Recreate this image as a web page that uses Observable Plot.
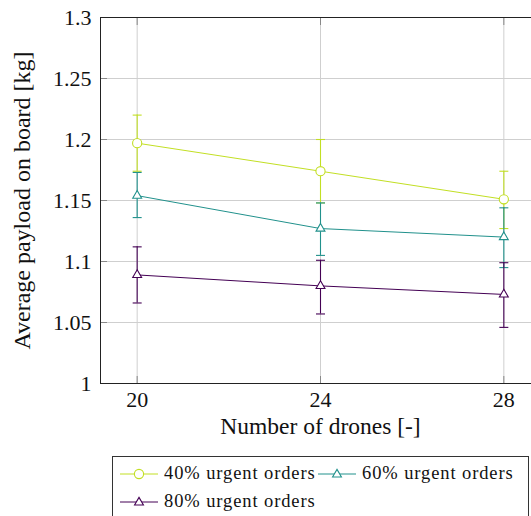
<!DOCTYPE html>
<html>
<head>
<meta charset="utf-8">
<script src="https://cdn.jsdelivr.net/npm/d3@7"></script>
<script src="https://cdn.jsdelivr.net/npm/@observablehq/plot@0.6"></script>
<style>
  html, body { margin: 0; padding: 0; background: #fff; overflow: hidden; }
  #wrap { position: relative; width: 531px; height: 516px; overflow: hidden; }
  #chart svg { max-width: none !important; }
  #chart svg, #chart svg text, #legend { font-family: "Liberation Serif", "Times New Roman", "DejaVu Serif", serif !important; }
  #legend {
    position: absolute; left: 112px; top: 456px; width: 417px; height: 64px;
    border: 1px solid #333; box-sizing: border-box;
    font-size: 18.5px; letter-spacing: 0.9px; color: #111;
  }
  .item { position: absolute; display: flex; align-items: center; white-space: nowrap; }
  .item svg { margin-right: 6px; }
</style>
</head>
<body>
<div id="wrap"><div id="chart"></div><div id="legend"></div></div>
<script>
const drones = [20, 24, 28];
const seriesNames = ["40% urgent orders", "60% urgent orders", "80% urgent orders"];
const seriesColors = ["#c2df23", "#21918c", "#440154"];
const seriesSymbols = ["circle", "triangle", "triangle"];
const mean40 = [1.197, 1.174, 1.151];
const low40  = [1.174, 1.148, 1.127];
const high40 = [1.220, 1.200, 1.174];
const mean60 = [1.154, 1.127, 1.120];
const low60  = [1.136, 1.105, 1.095];
const high60 = [1.173, 1.148, 1.144];
const mean80 = [1.089, 1.080, 1.073];
const low80  = [1.066, 1.057, 1.046];
const high80 = [1.112, 1.101, 1.099];
const yTicks = [1, 1.05, 1.1, 1.15, 1.2, 1.25, 1.3];
const xTicks = [20, 24, 28];
const xLabel = "Number of drones [-]";
const yLabel = "Average payload on board [kg]";

const means = [mean40, mean60, mean80];
const lows = [low40, low60, low80];
const highs = [high40, high60, high80];
const data = [];
seriesNames.forEach((s, i) => drones.forEach((d, j) => data.push({
  series: s, drones: d, mean: means[i][j], low: lows[i][j], high: highs[i][j]
})));

const capSymbol = { draw(ctx, size) { const r = Math.sqrt(size / Math.PI); ctx.moveTo(-r, 0); ctx.lineTo(r, 0); } };

const font = "'Liberation Serif', 'Times New Roman', serif";
const marks = [
  Plot.gridY(yTicks, { stroke: "#cfcfcf", strokeOpacity: 1 }),
  Plot.gridX(xTicks, { stroke: "#cfcfcf", strokeOpacity: 1 }),
  Plot.axisY(yTicks, { anchor: "left", tickSize: -7, stroke: "#888", text: null, label: null }),
  Plot.axisY(yTicks, { anchor: "right", tickSize: -7, stroke: "#888", text: null, label: null }),
  Plot.axisX(xTicks, { anchor: "bottom", tickSize: -7, stroke: "#888", text: null, label: null }),
  Plot.axisX(xTicks, { anchor: "top", tickSize: -7, stroke: "#888", text: null, label: null }),
  Plot.axisY(yTicks, { anchor: "left", tickSize: 0, tickPadding: 9, tickFormat: d => String(+d.toFixed(2)), label: null, fontSize: 22, fill: "#111", fontFamily: font }),
  Plot.axisX(xTicks, { anchor: "bottom", tickSize: 0, tickPadding: 8, tickFormat: d => String(d), label: null, fontSize: 22, fill: "#111", fontFamily: font }),
  Plot.text([xLabel], { text: d => d, frameAnchor: "bottom", dy: 50, fontSize: 23.5, fill: "#111", fontFamily: font }),
  Plot.text([yLabel], { text: d => d, frameAnchor: "left", textAnchor: "middle", dx: -78, rotate: -90, fontSize: 24, fill: "#111", fontFamily: font }),
];
seriesNames.forEach((s, i) => {
  const rows = data.filter(d => d.series === s);
  const c = seriesColors[i];
  marks.push(
    Plot.ruleX(rows, { x: "drones", y1: "low", y2: "high", stroke: c, strokeWidth: 1.1 }),
    Plot.dot(rows, { x: "drones", y: "low", symbol: capSymbol, r: 4.5, stroke: c, fill: "none", strokeWidth: 1.1 }),
    Plot.dot(rows, { x: "drones", y: "high", symbol: capSymbol, r: 4.5, stroke: c, fill: "none", strokeWidth: 1.1 }),
    Plot.line(rows, { x: "drones", y: "mean", stroke: c, strokeWidth: 1 }),
    Plot.dot(rows, { x: "drones", y: "mean", symbol: seriesSymbols[i], r: seriesSymbols[i] === "circle" ? 4.6 : 3.3, stroke: c, fill: "white", strokeWidth: 1.1 })
  );
});
marks.push(Plot.frame({ stroke: "#222", strokeWidth: 1 }));

const chart = Plot.plot({
  width: 540, height: 445,
  marginLeft: 100, marginRight: 0, marginTop: 17, marginBottom: 62,
  style: { fontFamily: font, background: "white", maxWidth: "none" },
  x: { domain: [19.2, 28.8] },
  y: { domain: [1, 1.3] },
  marks
});
document.getElementById("chart").appendChild(chart);

// legend
const legend = document.getElementById("legend");
seriesNames.forEach((s, i) => {
  const item = document.createElement("div");
  item.className = "item";
  item.style.left = "7px";
  item.style.top = (i === 2 ? 34 : 6) + "px";
  const c = seriesColors[i];
  const sym = seriesSymbols[i] === "circle"
    ? `<circle cx="19" cy="10" r="4.6" fill="white" stroke="${c}" stroke-width="1.1"/>`
    : `<path d="${d3.symbol(d3.symbolTriangle, Math.PI * 3.3 * 3.3)()}" transform="translate(19,10.5)" fill="white" stroke="${c}" stroke-width="1.1"/>`;
  item.innerHTML = `<svg width="38" height="20"><line x1="0" x2="38" y1="10" y2="10" stroke="${c}" stroke-width="1"/>${sym}</svg><span>${s}</span>`;
  legend.appendChild(item);
});
const items = legend.querySelectorAll(".item");
items[1].style.left = (items[0].offsetLeft + items[0].offsetWidth + 2) + "px";
</script>
</body>
</html>
